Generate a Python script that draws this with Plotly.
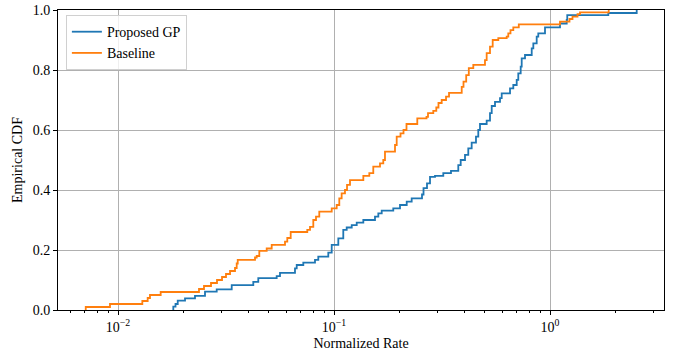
import plotly.graph_objects as go

# Proposed GP empirical CDF (step corners)
gp_rate = [0.01791, 0.01803, 0.01846, 0.01890, 0.02043, 0.02272, 0.02528, 0.02864, 0.03361, 0.04230,
           0.04461, 0.05428, 0.05623, 0.06598, 0.06720, 0.07209, 0.08166, 0.08458, 0.09410, 0.09759,
           0.1047, 0.1104, 0.1145, 0.1208, 0.1274, 0.1367, 0.1548, 0.1604, 0.1663, 0.1881,
           0.2021, 0.2171, 0.2289, 0.2555, 0.2597, 0.2695, 0.2783, 0.2935, 0.3206, 0.3480,
           0.3762, 0.3860, 0.4041, 0.4185, 0.4339, 0.4543, 0.4656, 0.4741, 0.5091, 0.5275,
           0.5372, 0.5564, 0.5869, 0.5976, 0.6530, 0.6763, 0.7012, 0.7131, 0.7317, 0.7396,
           0.7661, 0.8229, 0.8371, 0.8677, 0.8826, 0.9481, 1.1125, 1.195, 1.202, 1.862, 2.520]
gp_cdf = [0.0, 0.011, 0.02, 0.031, 0.039, 0.047, 0.061, 0.069, 0.083, 0.094,
          0.106, 0.113, 0.124, 0.139, 0.15, 0.158, 0.167, 0.178, 0.191, 0.217,
          0.239, 0.267, 0.275, 0.283, 0.291, 0.30, 0.311, 0.322, 0.331, 0.339,
          0.35, 0.361, 0.372, 0.385, 0.406, 0.422, 0.444, 0.447, 0.456, 0.464,
          0.483, 0.50, 0.517, 0.539, 0.558, 0.578, 0.60, 0.62, 0.631, 0.656,
          0.68, 0.694, 0.706, 0.722, 0.739, 0.75, 0.767, 0.789, 0.811, 0.839,
          0.85, 0.872, 0.889, 0.911, 0.922, 0.942, 0.955, 0.967, 0.983, 0.99, 1.0]

# Baseline empirical CDF
base_rate = [0.00709, 0.00709, 0.00918, 0.01296, 0.01372, 0.01406, 0.01576, 0.02371, 0.02501, 0.02695, 0.02873,
             0.03031, 0.03162, 0.03301, 0.03481, 0.03544, 0.03583, 0.04308, 0.04386, 0.04510, 0.04880,
             0.05147, 0.05931, 0.06078, 0.06302, 0.07521, 0.07743, 0.08020, 0.08254, 0.08548, 0.09759,
             0.1029, 0.1058, 0.1085, 0.1124, 0.1149, 0.1186, 0.1367, 0.1457, 0.1520, 0.1633,
             0.1691, 0.1722, 0.1916, 0.1951, 0.2032, 0.2098, 0.2166, 0.2430, 0.2681, 0.2724,
             0.2882, 0.2976, 0.3046, 0.3152, 0.3301, 0.3408, 0.3902, 0.3977, 0.4093, 0.4208,
             0.4415, 0.5000, 0.5091, 0.5275, 0.5429, 0.5763, 0.6302, 0.6411, 0.6563, 0.6763,
             0.7170, 1.1125, 1.231, 1.271, 1.341, 1.377, 1.870]
base_cdf = [0.0, 0.01, 0.02, 0.03, 0.04, 0.05, 0.06, 0.07, 0.08, 0.09, 0.10,
            0.11, 0.12, 0.13, 0.14, 0.155, 0.167, 0.175, 0.18, 0.197, 0.205,
            0.217, 0.228, 0.24, 0.26, 0.267, 0.277, 0.30, 0.311, 0.328, 0.339,
            0.35, 0.372, 0.389, 0.40, 0.417, 0.433, 0.447, 0.456, 0.478, 0.489,
            0.50, 0.528, 0.55, 0.578, 0.589, 0.60, 0.62, 0.639, 0.644, 0.656,
            0.664, 0.675, 0.69, 0.70, 0.711, 0.724, 0.744, 0.761, 0.783, 0.806,
            0.817, 0.833, 0.856, 0.878, 0.90, 0.906, 0.911, 0.922, 0.933, 0.942,
            0.952, 0.961, 0.97, 0.978, 0.986, 0.992, 1.0]

x_ticks = [0.01, 0.1, 1]
x_tick_text = ["10<sup>\u22122</sup>", "10<sup>\u22121</sup>", "10<sup>0</sup>"]
y_ticks = [0.0, 0.2, 0.4, 0.6, 0.8, 1.0]
minor_ticks = [m * 10.0 ** k for k in range(-3, 1) for m in range(2, 10)]

FONT = "Liberation Serif"

fig = go.Figure()
fig.add_trace(go.Scatter(x=gp_rate, y=gp_cdf, mode="lines", line_shape="hv",
                         line=dict(color="#1f77b4", width=1.8), name="Proposed GP"))
fig.add_trace(go.Scatter(x=base_rate, y=base_cdf, mode="lines", line_shape="hv",
                         line=dict(color="#ff7f0e", width=1.8), name="Baseline"))

fig.update_layout(
    width=678, height=354,
    margin=dict(l=58, r=14, t=10, b=44),
    paper_bgcolor="white", plot_bgcolor="white",
    font=dict(family=FONT, size=14, color="black"),
    showlegend=True,
    legend=dict(x=0.013, y=0.983, xanchor="left", yanchor="top",
                bgcolor="rgba(255,255,255,0.8)", bordercolor="#d0d0d0", borderwidth=1,
                font=dict(family=FONT, size=14), tracegroupgap=0),
)
fig.update_xaxes(
    type="log", range=[-2.2778, 0.5278], automargin=False,
    tickmode="array", tickvals=x_ticks, ticktext=x_tick_text,
    ticks="outside", ticklen=4, tickwidth=1, tickcolor="black",
    showgrid=True, gridcolor="#b0b0b0", gridwidth=1,
    showline=True, linecolor="black", linewidth=1, mirror=True,
    zeroline=False,
    minor=dict(tickvals=minor_ticks, ticks="outside", ticklen=2, tickwidth=0.8,
               tickcolor="black", showgrid=False),
    title=dict(text="Normalized Rate", font=dict(family=FONT, size=14), standoff=4),
    tickfont=dict(family=FONT, size=14),
)
fig.update_yaxes(
    range=[0, 1], tickvals=y_ticks, tickformat=".1f", automargin=False,
    ticks="outside", ticklen=4, tickwidth=1, tickcolor="black",
    showgrid=True, gridcolor="#b0b0b0", gridwidth=1,
    showline=True, linecolor="black", linewidth=1, mirror=True,
    zeroline=False,
    title=dict(text="Empirical CDF", font=dict(family=FONT, size=14), standoff=6),
    tickfont=dict(family=FONT, size=14),
)

fig.write_html("out.html")
